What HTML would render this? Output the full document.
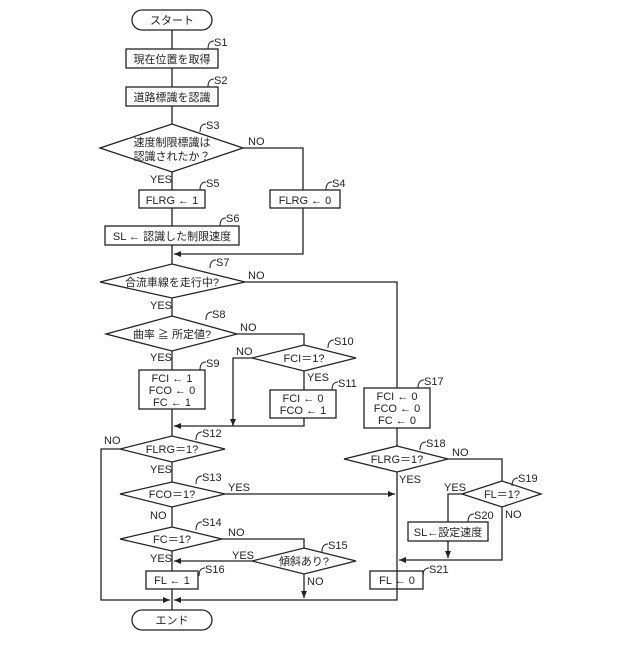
<!DOCTYPE html>
<html><head><meta charset="utf-8"><style>body{margin:0;background:#fff}svg text{font-family:"Liberation Sans","Noto Sans CJK JP",sans-serif;fill:#222}</style></head><body>
<svg width="640" height="640" viewBox="0 0 640 640" xmlns="http://www.w3.org/2000/svg">
<defs><marker id="a" markerWidth="8" markerHeight="8" refX="7" refY="4" orient="auto" markerUnits="userSpaceOnUse"><path d="M0,1 L7,4 L0,7z" fill="#222"/></marker></defs>
<g stroke="#222" stroke-width="1.3" fill="none">
<rect x="132" y="10" width="80" height="20" rx="10" fill="#fff"/>
<rect x="132" y="610" width="80" height="20" rx="10" fill="#fff"/>
<path d="M172 30V49M172 68V87M172 106V124M172 172V190M172 208V226M172 245V264M172 298V316M172 351V370M172 409V436M172 462V482M172 507V527M172 551V571M172 589V610"/>
<path d="M243 148H303V190M303 208V254H174" marker-end="url(#a)"/>
<path d="M245 282H397V388M397 428V446M397 472V600H174" marker-end="url(#a)"/>
<path d="M237 334H304V345M252 358H233V426" marker-end="url(#a)"/>
<path d="M304 371V390M304 418V426H174" marker-end="url(#a)"/>
<path d="M120 449H101V600H170" marker-end="url(#a)"/>
<path d="M225 494H395" marker-end="url(#a)"/>
<path d="M222 539H304V548M252 561H174" marker-end="url(#a)"/>
<path d="M304 574V598" marker-end="url(#a)"/>
<path d="M448 459H502V481M462 494H448V522M448 541V558" marker-end="url(#a)"/>
<path d="M502 507V560H399" marker-end="url(#a)"/>
<rect x="126" y="49" width="92" height="19"/><rect x="126" y="87" width="92" height="19"/>
<rect x="139" y="190" width="66" height="18"/><rect x="270" y="190" width="70" height="18"/>
<rect x="105" y="226" width="134" height="19"/><rect x="139" y="370" width="66" height="39"/>
<rect x="270" y="390" width="66" height="28"/><rect x="364" y="388" width="66" height="40"/>
<rect x="146" y="571" width="52" height="18"/><rect x="408" y="522" width="80" height="19"/>
<rect x="370" y="571" width="53" height="18"/>
<path d="M100 148L172 124L243 148L172 172Z"/>
<path d="M100 282L172 264L245 282L172 298Z"/>
<path d="M106 334L172 316L237 334L172 351Z"/>
<path d="M252 358L304 345L356 358L304 371Z"/>
<path d="M120 449L172 436L225 449L172 462Z"/>
<path d="M120 494L172 482L225 494L172 507Z"/>
<path d="M120 539L172 527L222 539L172 551Z"/>
<path d="M252 561L304 548L356 561L304 574Z"/>
<path d="M344 459L397 446L448 459L397 472Z"/>
<path d="M462 494L502 481L541 494L502 507Z"/>
<g stroke-width="1">
<path d="M208 49q0-8 6-8M208 87q0-8 6-8M200 132q0-8 6-8M200 190q0-8 6-8M326 190q0-8 6-8M220 226q0-8 6-8M210 268q0-8 6-8M206 320q0-8 6-8M200 370q0-8 6-8M328 348q0-8 6-8M332 390q0-8 6-8M196 440q0-8 6-8M196 484q0-8 6-8M196 530q0-8 6-8M322 552q0-8 6-8M199 576q0-8 6-8M418 388q0-8 6-8M420 450q0-8 6-8M512 486q0-8 6-8M468 522q0-8 6-8M423 576q0-8 6-8"/>
</g>
</g>
<g font-size="11" text-anchor="middle">
<text x="172" y="24">スタート</text><text x="172" y="624">エンド</text>
<text x="172" y="63">現在位置を取得</text><text x="172" y="101">道路標識を認識</text>
<text x="172" y="146">速度制限標識は</text><text x="172" y="160">認識されたか？</text>
<text x="172" y="204">FLRG ← 1</text><text x="305" y="204">FLRG ← 0</text>
<text x="172" y="240">SL ← 認識した制限速度</text>
<text x="172" y="286">合流車線を走行中?</text>
<text x="172" y="338">曲率 ≧ 所定値?</text>
<text x="304" y="362">FCI＝1?</text>
<text x="172" y="382">FCI ← 1</text><text x="172" y="394">FCO ← 0</text><text x="172" y="406">FC ← 1</text>
<text x="303" y="402">FCI ← 0</text><text x="303" y="414">FCO ← 1</text>
<text x="397" y="400">FCI ← 0</text><text x="397" y="412">FCO ← 0</text><text x="397" y="424">FC ← 0</text>
<text x="172" y="453">FLRG＝1?</text><text x="172" y="498">FCO＝1?</text><text x="172" y="543">FC＝1?</text>
<text x="304" y="565">傾斜あり?</text><text x="172" y="584">FL ← 1</text>
<text x="397" y="463">FLRG＝1?</text><text x="502" y="498">FL＝1?</text>
<text x="448" y="536">SL←設定速度</text><text x="397" y="584">FL ← 0</text>
</g>
<g font-size="11">
<text x="214" y="46">S1</text><text x="214" y="84">S2</text><text x="206" y="129">S3</text><text x="206" y="187">S5</text>
<text x="332" y="187">S4</text><text x="226" y="222">S6</text><text x="216" y="266">S7</text><text x="212" y="318">S8</text>
<text x="206" y="367">S9</text><text x="334" y="345">S10</text><text x="338" y="387">S11</text><text x="202" y="437">S12</text>
<text x="202" y="481">S13</text><text x="202" y="526">S14</text><text x="328" y="549">S15</text><text x="205" y="573">S16</text>
<text x="424" y="385">S17</text><text x="426" y="447">S18</text><text x="518" y="482">S19</text><text x="474" y="519">S20</text><text x="429" y="573">S21</text>
<text x="248" y="145">NO</text><text x="150" y="183">YES</text><text x="248" y="279">NO</text><text x="150" y="309">YES</text>
<text x="240" y="331">NO</text><text x="150" y="361">YES</text><text x="236" y="355">NO</text><text x="307" y="381">YES</text>
<text x="104" y="444">NO</text><text x="150" y="473">YES</text><text x="228" y="491">YES</text><text x="150" y="519">NO</text>
<text x="228" y="536">NO</text><text x="150" y="562">YES</text><text x="232" y="559">YES</text><text x="307" y="585">NO</text>
<text x="452" y="456">NO</text><text x="399" y="483">YES</text><text x="444" y="491">YES</text><text x="505" y="518">NO</text>
</g>
</svg>
</body></html>
